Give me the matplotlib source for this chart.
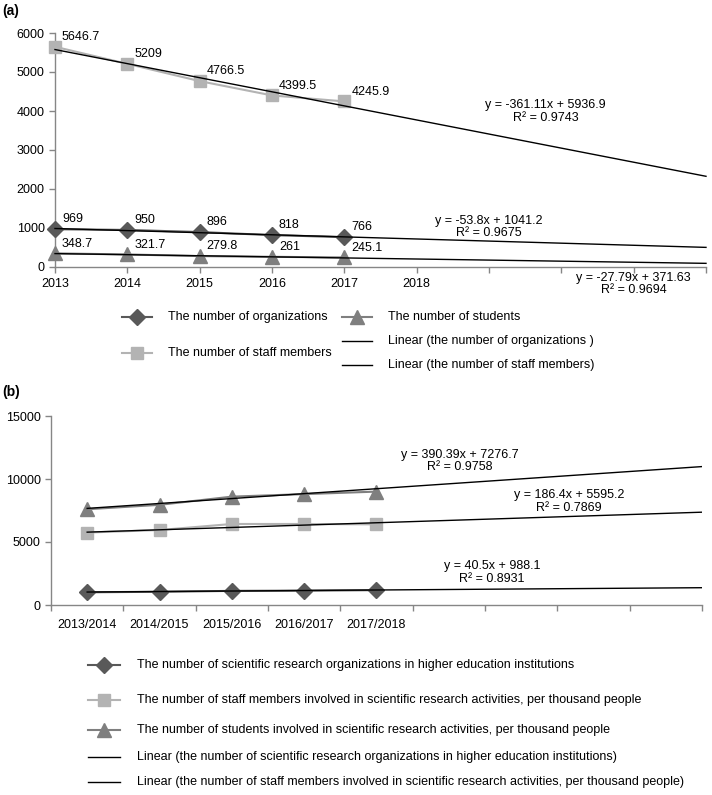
import numpy as np
import matplotlib
matplotlib.use("Agg")
import matplotlib.pyplot as plt
from matplotlib.lines import Line2D

plt.rcParams['font.family'] = ['Liberation Sans', 'DejaVu Sans']
plt.rcParams['font.size'] = 9

# ---- data, panel (a)
years_a = ['2013', '2014', '2015', '2016', '2017', '2018']
orgs_a = [969, 950, 896, 818, 766]
staff_a = [5646.7, 5209, 4766.5, 4399.5, 4245.9]
students_a = [348.7, 321.7, 279.8, 261, 245.1]
# trend lines (slope, intercept, R2) as printed on the chart
trend_staff_a = (-361.11, 5936.9, 0.9743)
trend_orgs_a = (-53.8, 1041.2, 0.9675)
trend_students_a = (-27.79, 371.63, 0.9694)

# ---- data, panel (b)
years_b = ['2013/2014', '2014/2015', '2015/2016', '2016/2017', '2017/2018']
orgs_b = [1010, 1050, 1120, 1140, 1180]
staff_b = [5750, 5950, 6430, 6430, 6400]
students_b = [7600, 7950, 8600, 8800, 9000]
trend_students_b = (390.39, 7276.7, 0.9758)
trend_staff_b = (186.4, 5595.2, 0.7869)
trend_orgs_b = (40.5, 988.1, 0.8931)

c_dia = '#595959'
c_sq = '#b3b3b3'
c_tri = '#7f7f7f'
c_axis = '#868686'

W, H = 712, 795
fig = plt.figure(figsize=(W / 100, H / 100), dpi=100)


def fx(px):
    return px / W


def fy(py):
    return 1 - py / H


def style_axes(ax):
    for s in ['top', 'right']:
        ax.spines[s].set_visible(False)
    for s in ['left', 'bottom']:
        ax.spines[s].set_color(c_axis)
        ax.spines[s].set_linewidth(1)
    ax.tick_params(colors=c_axis, labelcolor='black', length=4, width=1)


def eq_text(ax, x, y, tr):
    a, b, r2 = tr
    sign = '+' if b >= 0 else '-'
    ax.text(x, y, 'y = %gx %s %g\nR² = %g' % (a, sign, abs(b), r2),
            ha='center', va='center', fontsize=9, linespacing=1.05)


# ================= panel (a)
ax1 = fig.add_axes([fx(55), fy(267), fx(651), (267 - 33) / H])
style_axes(ax1)
xa = np.arange(1, len(orgs_a) + 1)
ax1.plot(xa, staff_a, color=c_sq, marker='s', ms=9, lw=1.5, clip_on=False, zorder=3)
ax1.plot(xa, orgs_a, color=c_dia, marker='D', ms=8, lw=1.5, clip_on=False, zorder=3)
ax1.plot(xa, students_a, color=c_tri, marker='^', ms=10, lw=1.5, clip_on=False, zorder=3)

xt = np.array([1, 10])
for tr in (trend_staff_a, trend_orgs_a, trend_students_a):
    ax1.plot(xt, tr[0] * xt + tr[1], color='black', lw=1, zorder=4, clip_on=False)

for vals in (staff_a, orgs_a, students_a):
    for x, v in zip(xa, vals):
        ax1.annotate('%g' % v, (x, v), xytext=(5, 7), textcoords='offset points',
                     ha='left', va='center', fontsize=9)

ax1.set_xlim(1, 10)
ax1.set_ylim(0, 6000)
ax1.set_yticks(range(0, 6001, 1000))
ax1.set_xticks(range(1, 11))
ax1.set_xticklabels(years_a + [''] * (10 - len(years_a)))
ax1.tick_params(axis='x', pad=4)

eq_text(ax1, 7.78, 3990, trend_staff_a)
eq_text(ax1, 7.0, 1030, trend_orgs_a)
eq_text(ax1, 9.0, -440, trend_students_a)

fig.text(fx(2), fy(11), '(a)', fontsize=10, fontweight='bold', va='center', ha='left')

# legend (a), drawn by hand
def leg_item(x0, x1, y, label, color=None, marker=None, ms=8, tx=None, fs=9):
    fig.add_artist(Line2D([fx(x0), fx(x1)], [fy(y), fy(y)], color=color or 'black',
                          lw=1.5 if marker else 1, transform=fig.transFigure))
    if marker:
        fig.add_artist(Line2D([fx((x0 + x1) / 2)], [fy(y)], color=color, marker=marker,
                              ms=ms, lw=0, transform=fig.transFigure))
    fig.text(fx(tx), fy(y), label, ha='left', va='center', fontsize=fs)


leg_item(122, 152, 317, 'The number of organizations', c_dia, 'D', 8, 168)
leg_item(342, 372, 317, 'The number of students', c_tri, '^', 10, 388)
leg_item(122, 152, 353, 'The number of staff members', c_sq, 's', 9, 168)
leg_item(342, 372, 341, 'Linear (the number of organizations )', tx=388)
leg_item(342, 372, 365, 'Linear (the number of staff members)', tx=388)

# ================= panel (b)
ax2 = fig.add_axes([fx(51), fy(605), fx(651), (605 - 416) / H])
style_axes(ax2)
xb = np.arange(1, len(orgs_b) + 1)
ax2.plot(xb, students_b, color=c_tri, marker='^', ms=10, lw=1.5, zorder=3)
ax2.plot(xb, staff_b, color=c_sq, marker='s', ms=9, lw=1.5, zorder=3)
ax2.plot(xb, orgs_b, color=c_dia, marker='D', ms=8, lw=1.5, zorder=3)

xt = np.array([1, 9.5])
for tr in (trend_students_b, trend_staff_b, trend_orgs_b):
    ax2.plot(xt, tr[0] * xt + tr[1], color='black', lw=1, zorder=4)

ax2.set_xlim(0.5, 9.5)
ax2.set_ylim(0, 15000)
ax2.set_yticks([0, 5000, 10000, 15000])
ax2.set_xticks(np.arange(0.5, 9.6, 1))
ax2.set_xticklabels([])
ax2.set_xticks(xb, minor=True)
ax2.set_xticklabels(years_b, minor=True)
ax2.tick_params(axis='x', which='minor', length=0, pad=10)

eq_text(ax2, 6.15, 11430, trend_students_b)
eq_text(ax2, 7.66, 8210, trend_staff_b)
eq_text(ax2, 6.6, 2580, trend_orgs_b)

fig.text(fx(2), fy(392), '(b)', fontsize=10, fontweight='bold', va='center', ha='left')

leg_item(88, 120, 665, 'The number of scientific research organizations in higher education institutions',
         c_dia, 'D', 8, 137)
leg_item(88, 120, 700, 'The number of staff members involved in scientific research activities, per thousand people',
         c_sq, 's', 9, 137)
leg_item(88, 120, 730, 'The number of students involved in scientific research activities, per thousand people',
         c_tri, '^', 10, 137)
leg_item(88, 120, 757, 'Linear (the number of scientific research organizations in higher education institutions)',
         tx=137)
leg_item(88, 120, 782, 'Linear (the number of staff members involved in scientific research activities, per thousand people)',
         tx=137)

fig.savefig('out.png', dpi=100)
